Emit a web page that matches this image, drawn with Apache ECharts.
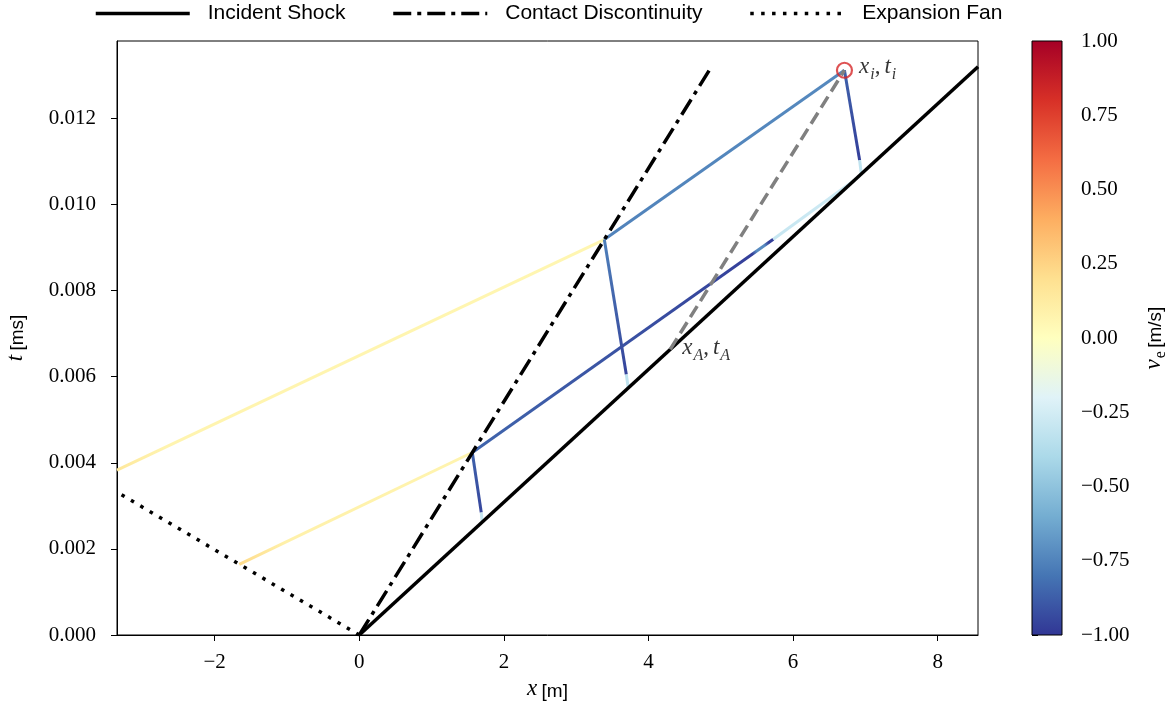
<!DOCTYPE html>
<html>
<head>
<meta charset="utf-8">
<script src="https://cdn.jsdelivr.net/npm/echarts@6/dist/echarts.min.js"></script>
<style>
html, body { margin: 0; padding: 0; background: #fff; }
#chart { width: 1170px; height: 710px; }
</style>
</head>
<body>
<div id="chart"></div>
<script>
// ---- axis ticks ----
const xTicks = [-2, 0, 2, 4, 6, 8];
const tTicks = [0, 0.002, 0.004, 0.006, 0.008, 0.010, 0.012];
const veTicks = [-1, -0.75, -0.5, -0.25, 0, 0.25, 0.5, 0.75, 1];
const xRange = [-3.351, 8.557];
const tRange = [0, 0.0138];
const veRange = [-1, 1];

// ---- wave fronts in the x–t plane: [x, t] ----
const incidentShock = [[0, 0], [8.557, 0.0132]];
const contactDiscontinuity = [[0, 0], [4.84, 0.01312]];
const expansionFan = [[0, 0], [-3.351, 0.00332]];

// ---- characteristic rays: [x0, t0, x1, t1] ----
const rayPaths = [
  [-1.66, 0.00164, 1.563, 0.00424],   // fan -> contact (1st)
  [1.563, 0.00424, 1.687, 0.002846],  // contact -> shock (1st), dark part
  [1.687, 0.002846, 1.70, 0.00262],   // contact -> shock (1st), near shock
  [1.563, 0.00424, 5.726, 0.009194],  // contact -> forward (1st)
  [5.726, 0.009194, 6.85, 0.01057],   // forward continuation to shock
  [-3.351, 0.00383, 3.389, 0.009187], // fan -> contact (2nd)
  [3.389, 0.009187, 3.693, 0.006051], // contact -> shock (2nd), dark part
  [3.693, 0.006051, 3.72, 0.00574],   // contact -> shock (2nd), near shock
  [3.389, 0.009187, 6.71, 0.01312],   // contact -> (x_i, t_i)
  [6.71, 0.01312, 6.92, 0.01103],     // (x_i, t_i) -> shock, dark part
  [6.92, 0.01103, 6.943, 0.01071]     // (x_i, t_i) -> shock, near shock
];
// v_e along each ray: [fraction of ray, v_e]
const rayVelocity = [
  [[0, 0.22], [0.2, 0.09], [1, 0.07]],
  [[0, -0.86], [1, -0.95]],
  [[0, -0.3], [1, -0.3]],
  [[0, -0.85], [0.8, -0.95], [0.93, -0.97], [0.945, -0.72], [0.97, -0.72], [0.985, -0.97], [1, -0.97]],
  [[0, -0.3], [1, -0.26]],
  [[0, 0.15], [0.1, 0.07], [1, 0.06]],
  [[0, -0.76], [1, -0.96]],
  [[0, -0.32], [1, -0.32]],
  [[0, -0.75], [1, -0.73]],
  [[0, -0.86], [1, -0.97]],
  [[0, -0.32], [1, -0.32]]
];

// ---- interaction path and marked points ----
const interactionPath = [[4.30, 0.006635], [6.71, 0.01312]];
const pointA = [4.30, 0.006635];
const pointI = [6.71, 0.01312];

// RdYlBu (reversed) nodes, v_e = -1 ... 1
const colormap = ['#313695', '#4575b4', '#74add1', '#abd9e9', '#e0f3f8', '#ffffbf',
                  '#fee090', '#fdae61', '#f46d43', '#d73027', '#a50026'];

function hexToRgb(h) {
  return [parseInt(h.slice(1, 3), 16), parseInt(h.slice(3, 5), 16), parseInt(h.slice(5, 7), 16)];
}
function cmap(v) {
  const n = colormap.length - 1;
  let s = (v - veRange[0]) / (veRange[1] - veRange[0]) * n;
  s = Math.max(0, Math.min(n, s));
  const i = Math.min(n - 1, Math.floor(s));
  const f = s - i;
  const a = hexToRgb(colormap[i]), b = hexToRgb(colormap[i + 1]);
  const c = a.map((x, k) => Math.round(x + (b[k] - x) * f));
  return 'rgb(' + c.join(',') + ')';
}

const minus = '\u2212';
function fmtSigned(v, digits) {
  const s = digits == null ? String(Math.abs(v)) : Math.abs(v).toFixed(digits);
  return (v < -1e-12 ? minus : '') + s;
}

const serif = 'Liberation Serif';
const sans = 'Liberation Sans';
const mathRich = {
  i: { fontFamily: serif, fontStyle: 'italic', fontSize: 23, color: '#000', verticalAlign: 'bottom', padding: [0, 1, 4, 0] },
  n: { fontFamily: serif, fontSize: 23, color: '#000', verticalAlign: 'bottom', padding: [0, 4, 4, 0] },
  sub: { fontFamily: serif, fontStyle: 'italic', fontSize: 16, color: '#000', verticalAlign: 'bottom' },
  subr: { fontFamily: serif, fontSize: 16, color: '#000', verticalAlign: 'bottom' },
  s: { fontFamily: sans, fontSize: 19, color: '#000', verticalAlign: 'bottom', padding: [0, 0, 4, 0] }
};

const chart = echarts.init(document.getElementById('chart'), null, { renderer: 'canvas' });

function renderRay(params, api) {
  const idx = api.value(4);
  const p0 = api.coord([api.value(0), api.value(1)]);
  const p1 = api.coord([api.value(2), api.value(3)]);
  const stops = rayVelocity[idx].map(function (d) { return { offset: d[0], color: cmap(d[1]) }; });
  return {
    type: 'line',
    shape: { x1: p0[0], y1: p0[1], x2: p1[0], y2: p1[1] },
    style: {
      stroke: new echarts.graphic.LinearGradient(p0[0], p0[1], p1[0], p1[1], stops, true),
      lineWidth: 3,
      lineCap: 'butt',
      fill: null
    }
  };
}

function renderColorbar(params, api) {
  const p0 = api.coord([api.value(0), api.value(2)]);
  const p1 = api.coord([api.value(1), api.value(3)]);
  const stops = colormap.slice().reverse().map(function (c, k) {
    return { offset: k / (colormap.length - 1), color: c };
  });
  return {
    type: 'rect',
    shape: { x: p0[0], y: p0[1], width: p1[0] - p0[0], height: p1[1] - p0[1] },
    style: {
      fill: new echarts.graphic.LinearGradient(0, 0, 0, 1, stops),
      stroke: '#000',
      lineWidth: 1
    }
  };
}

const tickFont = { fontFamily: serif, fontSize: 21, color: '#000' };

const option = {
  animation: false,
  backgroundColor: '#fff',
  legend: {
    data: ['Incident Shock', 'Contact Discontinuity', 'Expansion Fan'],
    left: 89,
    top: -2,
    itemWidth: 94,
    itemHeight: 18,
    itemGap: 46,
    itemStyle: { opacity: 0 },
    lineStyle: { width: 3.5 },
    textStyle: { fontFamily: sans, fontSize: 21, color: '#000', padding: [0, 0, 0, 13] },
    selectedMode: false
  },
  grid: [
    { left: 117, right: 192, top: 41, bottom: 75, show: true, borderColor: '#000', borderWidth: 1,
      backgroundColor: 'transparent', outerBoundsMode: 'none', containLabel: false },
    { left: 1032, width: 30, top: 41, bottom: 75, show: false, outerBoundsMode: 'none', containLabel: false }
  ],
  xAxis: [
    {
      type: 'value', gridIndex: 0, min: xRange[0], max: xRange[1],
      name: '{i|x} {s|[m]}', nameLocation: 'middle', nameGap: 42,
      nameTextStyle: { rich: mathRich },
      axisLine: { show: true, onZero: false, lineStyle: { color: '#000', width: 1 } },
      axisTick: { show: true, length: 6, lineStyle: { color: '#000' }, customValues: xTicks },
      axisLabel: { ...tickFont, margin: 17, customValues: xTicks, formatter: function (v) { return fmtSigned(v); } },
      splitLine: { show: false }
    },
    { type: 'value', gridIndex: 1, min: 0, max: 1, show: false }
  ],
  yAxis: [
    {
      type: 'value', gridIndex: 0, min: tRange[0], max: tRange[1],
      name: '{i|t} {s|[ms]}', nameLocation: 'middle', nameGap: 86, nameRotate: 90,
      nameTextStyle: { rich: mathRich },
      axisLine: { show: true, onZero: false, lineStyle: { color: '#000', width: 1 } },
      axisTick: { show: true, length: 6, lineStyle: { color: '#000' }, customValues: tTicks },
      axisLabel: { ...tickFont, margin: 21, customValues: tTicks, formatter: function (v) { return v.toFixed(3); } },
      splitLine: { show: false }
    },
    {
      type: 'value', gridIndex: 1, position: 'right', min: veRange[0], max: veRange[1], interval: 0.25,
      name: '{i|v}{subr|e} {s|[m/s]}', nameLocation: 'middle', nameGap: 80, nameRotate: 90,
      nameTextStyle: { rich: mathRich },
      axisLine: { show: false },
      axisTick: { show: true, length: 6, lineStyle: { color: '#000' }, customValues: veTicks },
      axisLabel: { ...tickFont, margin: 19, customValues: veTicks, formatter: function (v) { return fmtSigned(v, 2); } },
      splitLine: { show: false }
    }
  ],
  series: [
    {
      type: 'custom', name: 'rays', xAxisIndex: 0, yAxisIndex: 0, z: 2,
      renderItem: renderRay,
      encode: { x: [0, 2], y: [1, 3] },
      data: rayPaths.map(function (r, i) { return r.concat([i]); }),
      silent: true
    },
    {
      type: 'line', name: 'Incident Shock', data: incidentShock, z: 3,
      symbol: 'none', lineStyle: { color: '#000', width: 3.5, type: 'solid', cap: 'butt' }, silent: true
    },
    {
      type: 'line', name: 'Contact Discontinuity', data: contactDiscontinuity, z: 3,
      symbol: 'none', lineStyle: { color: '#000', width: 3.5, type: [18, 6, 4, 6], cap: 'butt' }, silent: true
    },
    {
      type: 'line', name: 'Expansion Fan', data: expansionFan, z: 3,
      symbol: 'none', lineStyle: { color: '#000', width: 3.5, type: [3.5, 7.4], cap: 'butt' }, silent: true
    },
    {
      type: 'line', name: 'interaction', data: interactionPath, z: 4,
      symbol: 'none', lineStyle: { color: '#808080', width: 3.5, type: [13, 6], cap: 'butt' }, silent: true
    },
    {
      type: 'scatter', name: 'pointI', data: [pointI], z: 5,
      symbol: 'circle', symbolSize: 15,
      itemStyle: { color: 'transparent', borderColor: '#d62728', borderWidth: 2.2 },
      label: {
        show: true, position: 'right', distance: 6, offset: [0, -1],
        formatter: '{i|x}{sub|i}{n|,}{i|t}{sub|i}', rich: mathRich
      },
      silent: true
    },
    {
      type: 'scatter', name: 'pointA', data: [pointA], z: 5,
      symbol: 'circle', symbolSize: 2,
      itemStyle: { color: 'transparent' },
      label: {
        show: true, position: 'right', distance: 11, offset: [0, 1],
        formatter: '{i|x}{sub|A}{n|,}{i|t}{sub|A}', rich: mathRich
      },
      silent: true
    },
    {
      type: 'custom', name: 'colorbar', xAxisIndex: 1, yAxisIndex: 1, z: 2,
      renderItem: renderColorbar,
      data: [[0, 1, veRange[1], veRange[0]]],
      silent: true
    }
  ]
};

chart.setOption(option);
</script>
</body>
</html>
